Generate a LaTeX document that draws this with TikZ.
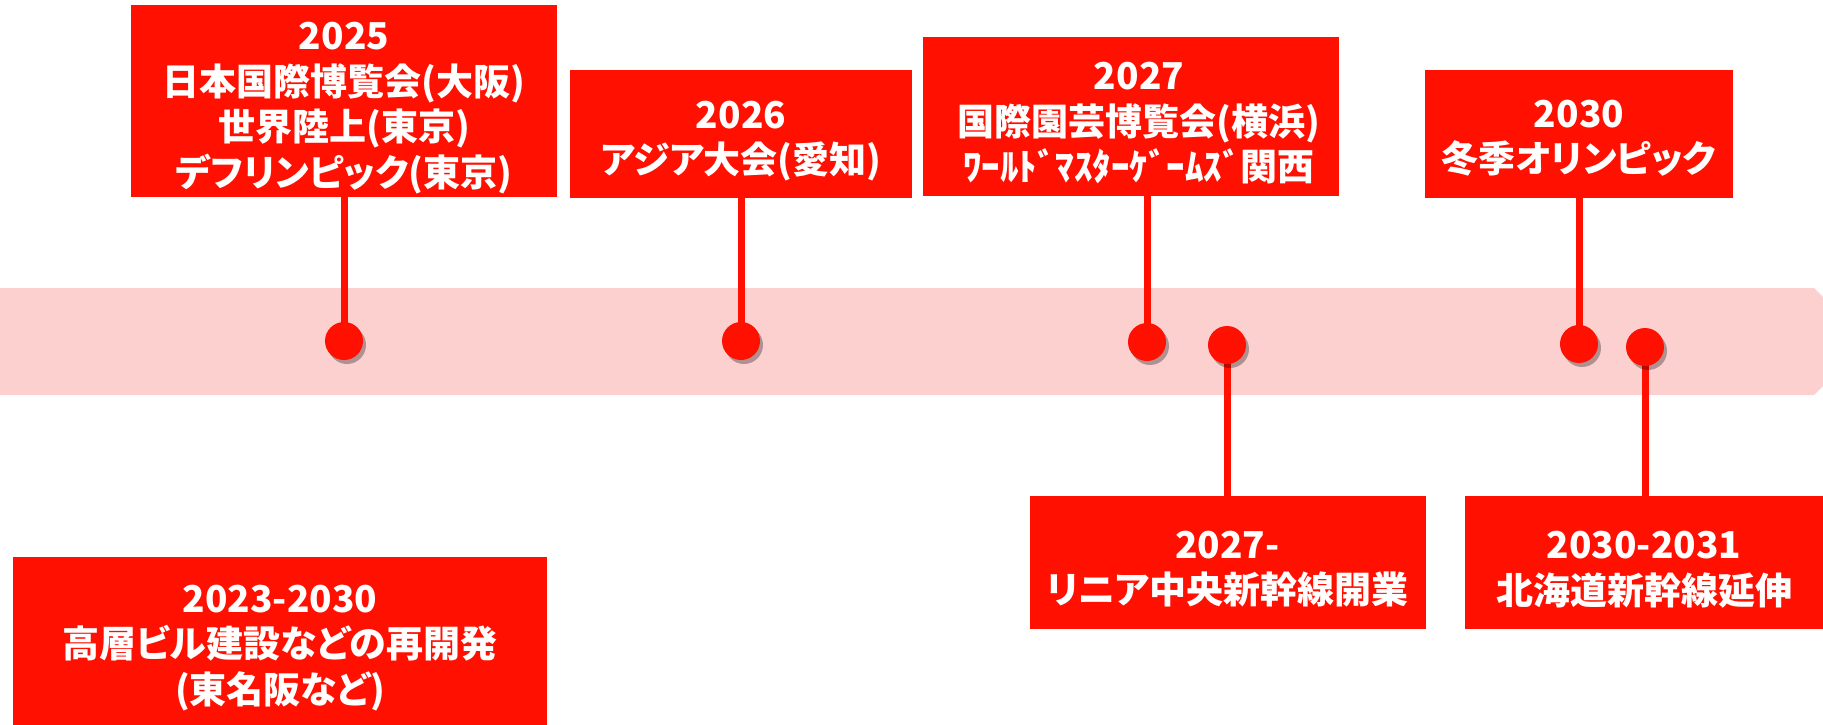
\documentclass[tikz,border=0pt]{standalone}
\usepackage{fontspec}
\setmainfont{Noto Sans CJK JP}[RawFeature=+palt]
\usetikzlibrary{shadows}
\definecolor{tred}{RGB}{255,16,0}
\definecolor{bandpink}{RGB}{253,208,208}
\begin{document}
\begin{tikzpicture}[x=1pt,y=-1pt,
  evbox/.style={fill=tred, inner sep=0pt, outer sep=0pt},
  evtext/.style={text=white, font=\fontsize{37}{45.5}\selectfont\bfseries, align=center, inner sep=0pt, yshift=-7pt},
  dot/.style={circle, fill=tred, minimum size=38pt, inner sep=0pt,
    drop shadow={shadow xshift=3pt, shadow yshift=-4pt, fill=black, opacity=0.3}},
  stem/.style={draw=tred, line width=7pt}]
\useasboundingbox (0,0) rectangle (1823,725);
% band
\fill[bandpink] (0,288) -- (1814,288) -- (1823,297) -- (1823,386) -- (1814,395) -- (0,395) -- cycle;
% boxes
\node[evbox, minimum width=426pt, minimum height=192pt,
  label={[evtext]center:{2025\\日本国際博覧会(大阪)\\世界陸上(東京)\\デフリンピック(東京)}}] (b1) at (344,101) {};
\node[evbox, minimum width=342pt, minimum height=128pt,
  label={[evtext]center:{2026\\アジア大会(愛知)}}] (b2) at (741,134) {};
\node[evbox, minimum width=416pt, minimum height=159pt,
  label={[evtext, xshift=8pt]center:{2027\\国際園芸博覧会(横浜)\\ﾜｰﾙﾄﾞﾏｽﾀｰｹﾞｰﾑｽﾞ関西}}] (b3) at (1131,116.5) {};
\node[evbox, minimum width=396pt, minimum height=133pt,
  label={[evtext]center:{2027-\\リニア中央新幹線開業}}] (b4) at (1227.5,562) {};
\node[evbox, minimum width=308pt, minimum height=128pt,
  label={[evtext, yshift=3pt]center:{2030\\冬季オリンピック}}] (b5) at (1579,134) {};
\node[evbox, minimum width=358pt, minimum height=133pt,
  label={[evtext]center:{2030-2031\\北海道新幹線延伸}}] (b6) at (1644,562.5) {};
\node[evbox, minimum width=534pt, minimum height=168pt,
  label={[evtext]center:{2023-2030\\高層ビル建設などの再開発\\(東名阪など)}}] (b7) at (280,641) {};
% dot positions
\coordinate (p1) at (344,341);
\coordinate (p2) at (741,341);
\coordinate (p3) at (1147,342);
\coordinate (p4) at (1227,345);
\coordinate (p5) at (1579,344);
\coordinate (p6) at (1645,347);
% stems
\draw[stem] (b1.south) -- (p1);
\draw[stem] (b2.south) -- (p2);
\draw[stem] (p3 |- b3.south) -- (p3);
\draw[stem] (p4 |- b4.north) -- (p4);
\draw[stem] (b5.south) -- (p5);
\draw[stem] (p6 |- b6.north) -- (p6);
% dots
\foreach \i in {1,...,6} { \node[dot] (d\i) at (p\i) {}; }
\end{tikzpicture}
\end{document}
